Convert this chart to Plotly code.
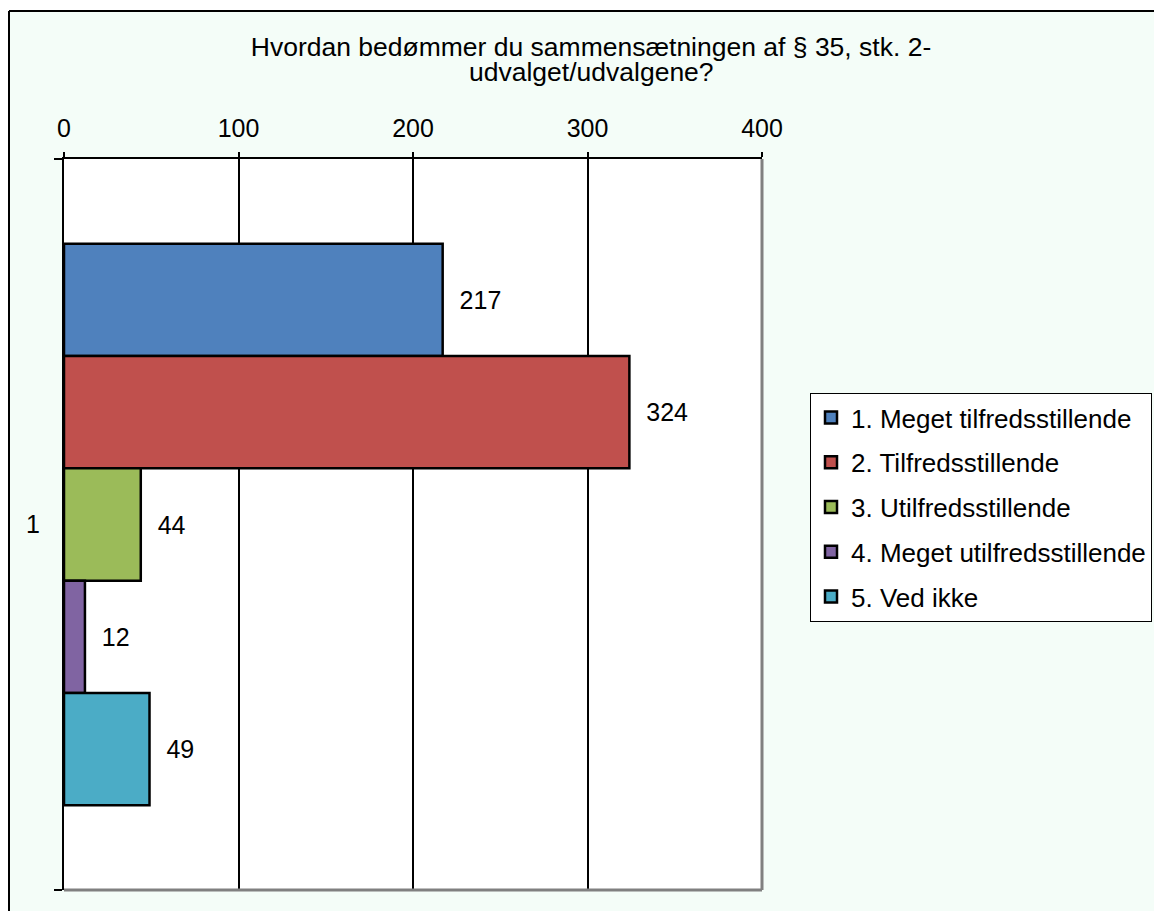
import plotly.graph_objects as go

# data
answers = ['1. Meget tilfredsstillende', '2. Tilfredsstillende', '3. Utilfredsstillende',
           '4. Meget utilfredsstillende', '5. Ved ikke']
counts = [217, 324, 44, 12, 49]
bar_colors = ['#4f81bd', '#c0504d', '#9bbb59', '#8064a2', '#4bacc6']
group = ['1']
x_ticks = [0, 100, 200, 300, 400]

title_line1 = 'Hvordan bedømmer du sammensætningen af § 35, stk. 2-'
title_line2 = 'udvalget/udvalgene?'

# page body has an 8px margin, so everything is placed 8px up/left of the reference pixel
OFF = 8
W, H = 1162, 911
L, R, T, B = 64 - OFF, 400 + OFF, 159 - OFF, 21 + OFF
FONT = 'Liberation Sans, Arial, sans-serif'
MINT = '#f4fdf8'


def px(x):
    return (x - OFF - L) / (W - L - R)


def py(y):
    return (H - B - (y - OFF)) / (H - T - B)


fig = go.Figure()

for name, val, col in zip(answers, counts, bar_colors):
    fig.add_trace(go.Bar(
        y=group, x=[val], name=name, orientation='h',
        marker=dict(color=col, line=dict(color='black', width=2.5)),
        text=[val], texttemplate='\u00a0\u00a0%{x}', textposition='outside',
        textfont=dict(size=25, color='black', family=FONT),
        cliponaxis=False, legendgroup=name,
    ))

fig.update_layout(
    width=W, height=H,
    margin=dict(l=L, r=R, t=T, b=B),
    paper_bgcolor=MINT, plot_bgcolor='white',
    font=dict(family=FONT, size=25, color='black'),
    barmode='group', bargap=0.232, bargroupgap=0,
    title=dict(text=title_line1, x=(591 - OFF) / W, xanchor='center', xref='container',
               y=1 - (47 - OFF) / H, yanchor='middle', yref='container',
               font=dict(size=26.5, family=FONT, color='black')),
    legend=dict(x=px(810), y=py(393), xanchor='left', yanchor='top',
                bgcolor='white', bordercolor='black', borderwidth=1,
                font=dict(size=26, family=FONT, color='black'),
                traceorder='grouped', tracegroupgap=8, itemwidth=30),
    showlegend=True,
)

fig.add_annotation(text=title_line2, xref='paper', yref='paper', x=px(591), y=py(72),
                   xanchor='center', yanchor='middle', showarrow=False,
                   font=dict(size=26.5, family=FONT, color='black'))

fig.update_xaxes(
    side='top', range=[0, 400], tickvals=x_ticks, showgrid=True, gridcolor='black', gridwidth=2,
    zeroline=False, showline=True, linecolor='black', linewidth=2,
    ticks='outside', ticklen=5, tickwidth=2, tickcolor='black', ticklabelstandoff=5,
    tickfont=dict(size=25),
)
fig.update_yaxes(
    type='category', autorange='reversed', tickson='boundaries', showgrid=False,
    showline=True, linecolor='black', linewidth=2,
    ticks='outside', ticklen=8, tickwidth=2, tickcolor='black', ticklabelstandoff=17,
    tickfont=dict(size=25),
)

# white strip outside the chart frame, frame lines, gray right/bottom plot edges
fig.add_shape(type='rect', xref='paper', yref='paper', x0=px(-20), x1=px(9), y0=py(H + 20), y1=py(-20),
              fillcolor='white', line_width=0, layer='below')
fig.add_shape(type='rect', xref='paper', yref='paper', x0=px(-20), x1=px(W + 20), y0=py(11), y1=py(-20),
              fillcolor='white', line_width=0, layer='below')
fig.add_shape(type='line', xref='paper', yref='paper', x0=px(9), x1=px(9), y0=py(H + 20), y1=py(11),
              line=dict(color='black', width=2))
fig.add_shape(type='line', xref='paper', yref='paper', x0=px(9), x1=px(W + 20), y0=py(11), y1=py(11),
              line=dict(color='black', width=2))
fig.add_shape(type='line', xref='paper', yref='paper', x0=1, x1=1, y0=0, y1=1,
              line=dict(color='#808080', width=3))
fig.add_shape(type='line', xref='paper', yref='paper', x0=0, x1=1, y0=0, y1=0,
              line=dict(color='#808080', width=3))

fig.write_html('out.html')
